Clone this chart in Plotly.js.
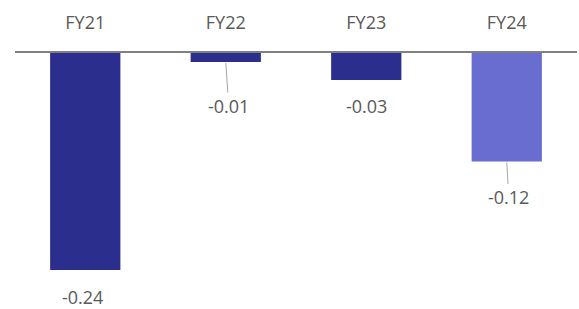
<!DOCTYPE html>
<html>
<head>
<meta charset="utf-8">
<script src="https://cdn.plot.ly/plotly-3.0.1.min.js"></script>
<style>html,body{margin:0;padding:0;background:#fff;}#chart{width:579px;height:309px;}</style>
</head>
<body>
<div id="chart"></div>
<script>
// Data
const categories = ["FY21", "FY22", "FY23", "FY24"];
const values = [-0.24, -0.01, -0.03, -0.12];
const valueLabels = ["-0.24", "-0.01", "-0.03", "-0.12"];

// Style
const barColors = ["#2B2E8C", "#2B2E8C", "#2B2E8C", "#6A6DD0"];
const labelOffsetX = [-3, 3, 0, 2];
const labelOffsetY = [27, 44, 26, 36];
const showLeader = [false, true, false, true];
const textColor = "#595959";
const fontFamily = "Open Sans, Liberation Sans, sans-serif";

const trace = {
  type: "bar",
  x: categories,
  y: values,
  marker: {color: barColors, line: {width: 0}},
  hoverinfo: "none"
};

const annotations = categories.map((c, i) => ({
  x: c, y: values[i], xref: "x", yref: "y",
  text: valueLabels[i],
  showarrow: true, arrowhead: 0, arrowwidth: 1,
  arrowcolor: showLeader[i] ? "#A6A6A6" : "rgba(0,0,0,0)",
  ax: labelOffsetX[i], ay: labelOffsetY[i],
  standoff: 1,
  font: {family: fontFamily, size: 18, color: textColor}
}));

const layout = {
  width: 579, height: 309,
  margin: {l: 15, r: 2, t: 53, b: 30},
  paper_bgcolor: "#fff", plot_bgcolor: "#fff",
  showlegend: false,
  bargap: 0.5,
  xaxis: {
    type: "category", side: "top", range: [-0.5, 3.5],
    showline: true, linecolor: "#808080", linewidth: 2,
    showgrid: false, zeroline: false,
    ticks: "outside", ticklen: 15, tickcolor: "rgba(0,0,0,0)",
    tickfont: {family: fontFamily, size: 18, color: textColor}
  },
  yaxis: {
    range: [-0.25, 0], showgrid: false, zeroline: false,
    showline: false, showticklabels: false, ticks: ""
  },
  annotations: annotations
};

Plotly.newPlot("chart", [trace], layout, {staticPlot: true, displayModeBar: false});
</script>
</body>
</html>
